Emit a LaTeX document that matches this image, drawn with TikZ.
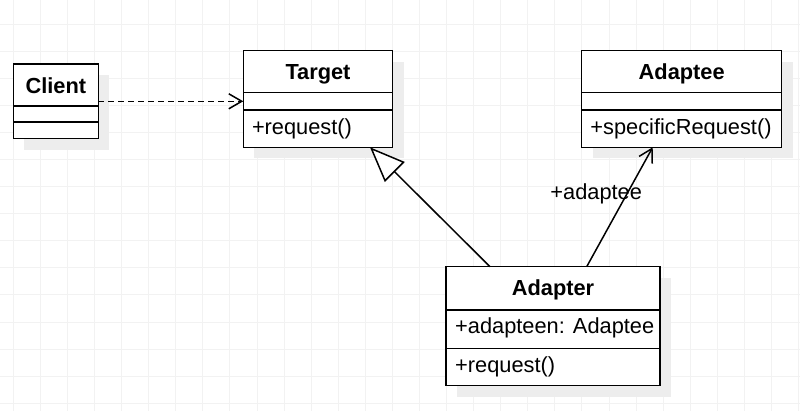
\documentclass[tikz,border=0pt]{standalone}
\usepackage{fontspec}
\setmainfont{Liberation Sans}
\usetikzlibrary{arrows.meta,calc,shadows}
\begin{document}
\begin{tikzpicture}[x=1pt,y=-1pt,
  box/.style={draw=black,line width=1.5pt,fill=white,inner sep=0pt,outer sep=0pt,
    drop shadow={shadow xshift=11pt,shadow yshift=-11pt,fill=black!7,opacity=1}},
  title/.style={font=\fontsize{21.8}{26}\selectfont\bfseries,inner sep=0pt,anchor=base},
  member/.style={font=\fontsize{21.8}{26}\selectfont,inner sep=0pt,anchor=base west},
  sepline/.style={line width=1.5pt},
  conn/.style={line width=1.5pt},
  gridline/.style={draw=black!5,line width=1pt},
  barb/.style={-{Straight Barb[length=13pt,width=15pt,line width=1.5pt]}}]
\useasboundingbox (0,0) rectangle (800,411);
\fill[white] (0,0) rectangle (800,411);
% grid
\foreach \i in {0,...,29} \draw[gridline] ({13.3+27.08*\i},0) -- ({13.3+27.08*\i},411);
\foreach \j in {0,...,14} \draw[gridline] (0,{24.5+27.05*\j}) -- (800,{24.5+27.05*\j});

% Client
\node[box,minimum width=85pt,minimum height=74.7pt] (client) at (55.8,101.3) {};
\draw[sepline] ($(client.north west)+(0,42)$) -- ($(client.north east)+(0,42)$);
\draw[sepline] ($(client.north west)+(0,58.3)$) -- ($(client.north east)+(0,58.3)$);
\node[title] (clientname) at ($(client.north)+(0,29.3)$) {Client};

% Target
\node[box,minimum width=149.4pt,minimum height=96.6pt] (target) at (318,99) {};
\draw[sepline] ($(target.north west)+(0,42)$) -- ($(target.north east)+(0,42)$);
\draw[sepline] ($(target.north west)+(0,59.3)$) -- ($(target.north east)+(0,59.3)$);
\node[title] (targetname) at ($(target.north)+(0,28.6)$) {Target};
\node[member] (targetop) at ($(target.north west)+(8.5,84.3)$) {+request()};

% Adaptee
\node[box,minimum width=200pt,minimum height=96.6pt] (adaptee) at (681.7,99) {};
\draw[sepline] ($(adaptee.north west)+(0,42)$) -- ($(adaptee.north east)+(0,42)$);
\draw[sepline] ($(adaptee.north west)+(0,59.3)$) -- ($(adaptee.north east)+(0,59.3)$);
\node[title] (adapteename) at ($(adaptee.north)+(0,28.6)$) {Adaptee};
\node[member] (adapteeop) at ($(adaptee.north west)+(8.5,84.3)$) {+specificRequest()};

% Adapter
\node[box,minimum width=214pt,minimum height=119pt] (adapter) at (553,326.2) {};
\draw[sepline] ($(adapter.north west)+(0,43.3)$) -- ($(adapter.north east)+(0,43.3)$);
\draw[sepline] ($(adapter.north west)+(0,81.6)$) -- ($(adapter.north east)+(0,81.6)$);
\node[title] (adaptername) at ($(adapter.north)+(0,29)$) {Adapter};
\node[member] (adapterattr) at ($(adapter.north west)+(9,67.3)$) {+adapteen: Adaptee};
\node[member] (adapterop) at ($(adapter.north west)+(9,106)$) {+request()};

% connectors
\draw[conn,dash pattern=on 6pt off 4pt,barb] (client.east) -- (client.east -| target.west);
\draw[conn,-{Triangle[length=35pt,width=28pt,fill=white,line width=1.5pt]}]
  ($(adapter.north west)+(44,0)$) -- ($(target.south west)+(126.7,0)$);
\draw[conn,barb] ($(adapter.north west)+(140.7,0)$) -- ($(adaptee.south west)+(71,0)$);
\node[member] (assoclabel) at (550.2,199.3) {+adaptee};
\end{tikzpicture}
\end{document}
